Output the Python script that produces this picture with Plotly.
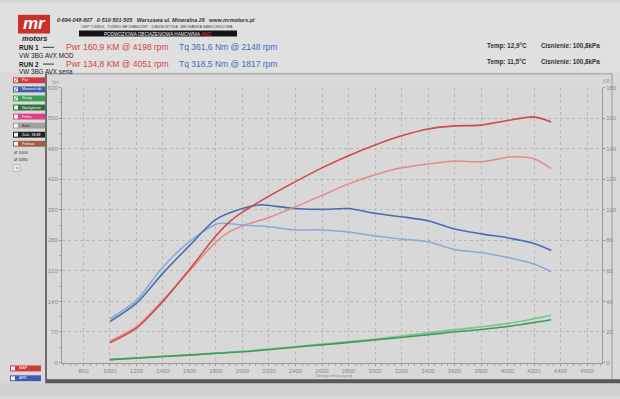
import plotly.graph_objects as go

# ---------------- data ----------------
rpm_pwr1 = [1000, 1200, 1400, 1600, 1800, 1900, 2000, 2200, 2400, 2600, 2800, 3000, 3200, 3400, 3600, 3800, 4000, 4198, 4330]
pwr1 = [13.0, 22.5, 40.0, 61.0, 83.0, 92.0, 98.5, 109.0, 118.5, 127.5, 135.5, 142.5, 148.5, 153.0, 155.0, 155.5, 158.5, 160.9, 157.5]

rpm_pwr2 = [1000, 1200, 1400, 1600, 1800, 1900, 2000, 2200, 2400, 2600, 2800, 3000, 3200, 3400, 3600, 3800, 4051, 4200, 4330]
pwr2 = [14.0, 23.5, 41.0, 60.0, 79.0, 85.5, 89.5, 95.0, 102.0, 109.5, 117.0, 123.0, 127.5, 130.0, 132.0, 131.5, 134.8, 133.5, 127.0]

rpm_tq1 = [1000, 1200, 1400, 1600, 1800, 2000, 2148, 2200, 2400, 2600, 2800, 3000, 3200, 3400, 3600, 3800, 4000, 4200, 4330]
tq1 = [94, 136, 205, 268, 328, 353, 361.6, 360, 353, 351, 353, 342, 334, 325, 306, 295, 286, 273, 257]

rpm_tq2 = [1000, 1200, 1400, 1600, 1817, 2000, 2200, 2400, 2600, 2800, 3000, 3200, 3400, 3600, 3800, 4000, 4200, 4330]
tq2 = [100, 143, 219, 277, 318.5, 315, 311, 304, 304, 299, 290, 283, 277, 259, 252, 241, 226, 208]

rpm_loss = [1000, 1500, 2000, 2500, 3000, 3500, 4000, 4330]
loss1 = [1.9, 4.5, 7.3, 11.2, 15.3, 20.4, 25.5, 31.0]
loss2 = [1.9, 4.4, 7.0, 10.8, 14.7, 19.1, 23.6, 28.0]

x_ticks = list(range(800, 4601, 200))
tq_ticks = list(range(0, 631, 70))
pwr_ticks = list(range(0, 181, 20))

legend_labels = ["Pwr", "Moment ob.", "Straty", "Nachylenie", "Pełna", "Koło", "Zakr. 1E4E", "Połowa"]
legend_colors = ["#d03a3a", "#3f5fae", "#3aa055", "#2f6e3a", "#e0408a", "#a0a0a0", "#222222", "#a0603a"]
legend_checked = [True, True, True, False, False, False, False, False]

W, H = 620, 399
def X(p): return p / W
def Y(p): return 1 - p / H

RED1, RED2 = "#cf4a4a", "#e08c8c"
BLUE1, BLUE2 = "#4a6fb0", "#8aa8d8"
GREEN1, GREEN2 = "#78c490", "#3f9a5c"

fig = go.Figure()
sp = dict(shape="spline", smoothing=0.8)
fig.add_trace(go.Scatter(x=rpm_loss, y=loss1, yaxis="y2", mode="lines", line=dict(color=GREEN1, width=1.6, **sp)))
fig.add_trace(go.Scatter(x=rpm_loss, y=loss2, yaxis="y2", mode="lines", line=dict(color=GREEN2, width=1.6, **sp)))
fig.add_trace(go.Scatter(x=rpm_tq2, y=tq2, mode="lines", line=dict(color=BLUE2, width=1.5, **sp)))
fig.add_trace(go.Scatter(x=rpm_tq1, y=tq1, mode="lines", line=dict(color=BLUE1, width=1.6, **sp)))
fig.add_trace(go.Scatter(x=rpm_pwr2, y=pwr2, yaxis="y2", mode="lines", line=dict(color=RED2, width=1.5, **sp)))
fig.add_trace(go.Scatter(x=rpm_pwr1, y=pwr1, yaxis="y2", mode="lines", line=dict(color=RED1, width=1.6, **sp)))

tickfont = dict(family="Liberation Sans", size=6, color="#8a8a8a")
grid = dict(showgrid=True, gridcolor="#b9b9b9", griddash="dot", gridwidth=1)

fig.update_layout(
    width=W, height=H, margin=dict(l=0, r=0, t=0, b=0),
    paper_bgcolor="#d9d9d9", plot_bgcolor="#d8d8d8",
    showlegend=False,
    xaxis=dict(domain=[X(62), X(602)], range=[638, 4713], tickvals=x_ticks,
               tickfont=tickfont, ticks="outside", ticklen=2, tickcolor="#999",
               showline=True, linecolor="#999", linewidth=1, zeroline=False,
               minor=dict(dtick=50, ticks="outside", ticklen=2, tickcolor="#aaa"),
               **grid),
    yaxis=dict(domain=[Y(365), Y(86)], range=[0, 630], tickvals=tq_ticks,
               tickfont=tickfont, ticks="outside", ticklen=2, tickcolor="#999",
               showline=True, linecolor="#999", linewidth=1, zeroline=False,
               minor=dict(dtick=35, ticks="outside", ticklen=2, tickcolor="#aaa"),
               **grid),
    yaxis2=dict(overlaying="y", side="right", range=[0, 180], tickvals=pwr_ticks,
                tickfont=tickfont, ticks="outside", ticklen=2, tickcolor="#999",
                showline=True, linecolor="#999", linewidth=1, zeroline=False,
                showgrid=False, anchor="x"),
)

shapes = []
ann = []
def rect(x0, y0, x1, y1, fill, line=None, lw=0, layer="below"):
    shapes.append(dict(type="rect", xref="paper", yref="paper", x0=X(x0), x1=X(x1), y0=Y(y1), y1=Y(y0),
                       fillcolor=fill, line=dict(color=line or fill, width=lw), layer=layer))
def line(x0, y0, x1, y1, color, w=1, layer="above"):
    shapes.append(dict(type="line", xref="paper", yref="paper", x0=X(x0), x1=X(x1), y0=Y(y0), y1=Y(y1),
                       line=dict(color=color, width=w), layer=layer))
def text(x, y, s, size, color="#222", anchor="left", bold=False, italic=False, family="Liberation Sans"):
    if bold:
        s = "<b>" + s + "</b>"
    if italic:
        s = "<i>" + s + "</i>"
    ann.append(dict(x=X(x), y=Y(y), xref="paper", yref="paper", text=s, showarrow=False,
                    xanchor=anchor, yanchor="middle", font=dict(family=family, size=size, color=color)))

# header background
rect(0, 0, 620, 70, "#e0e0e0")
# chart window frame
rect(46, 72, 612, 383, "rgba(0,0,0,0)", line="#9a9a9a", lw=1)
line(46, 72, 46, 386, "#555555", 1.5)
rect(46, 382, 620, 386, "#5a5a5a", layer="above")
rect(0, 386, 620, 399, "#d0d0d0")

# logo
rect(18, 12, 50, 31, "#c8322b", layer="above")
text(34, 21, "mr", 17, "#ffffff", anchor="center", bold=True, italic=True)
text(34, 36, "motors", 7.5, "#222222", anchor="center", bold=True, italic=True)

text(55, 17, "0-694-048-807&nbsp;&nbsp;&nbsp;0-510-501-505&nbsp;&nbsp;&nbsp;Warszawa ul. Mineralna 26&nbsp;&nbsp;&nbsp;www.mrmotors.pl", 5.4, "#333", bold=True, italic=True)
text(157, 24, "CHIP TUNING - TUNING MECHANICZNY - DIAGNOSTYKA - MECHANIKA SAMOCHODOWA", 3.6, "#444", anchor="center")
rect(79, 28, 237, 34, "#151515", layer="above")
text(158, 31, "PODWOZIOWA OBCIĄŻENIOWA HAMOWNIA <span style='color:#e03030'>4WD</span>", 4.6, "#f0f0f0", anchor="center")

# run info
text(17, 45, "RUN 1", 6.5, "#222", bold=True)
line(43, 45, 54, 45, "#333", 1)
text(64, 45, "Pwr 160,9 KM @ 4198 rpm", 8.5, "#d64545")
text(177, 45, "Tq 361,6 Nm @ 2148 rpm", 8.5, "#3f6cc0")
text(17, 53, "VW 3BG AVX MOD", 6.3, "#222")
text(17, 62, "RUN 2", 6.5, "#222", bold=True)
line(43, 62, 54, 62, "#333", 1)
text(64, 62, "Pwr 134,8 KM @ 4051 rpm", 8.5, "#d64545")
text(177, 62, "Tq 318,5 Nm @ 1817 rpm", 8.5, "#3f6cc0")
text(17, 70, "VW 3BG AVX seria", 6.3, "#222")

text(485, 43.5, "Temp: 12,9°C", 6.3, "#333", bold=True)
text(539, 43.5, "Cisnienie: 100,8kPa", 6.3, "#333", bold=True)
text(485, 60, "Temp: 11,5°C", 6.3, "#333", bold=True)
text(539, 60, "Cisnienie: 100,8kPa", 6.3, "#333", bold=True)

# axis unit labels
text(55, 81, "Nm", 4.5, "#999", anchor="center")
text(606, 80, "KM", 4.5, "#999", anchor="center")
text(333, 378.5, "Obroty silnika [rpm]", 4.3, "#8a8a8a", anchor="center")

# left panel legend
for i, (lab, col, chk) in enumerate(zip(legend_labels, legend_colors, legend_checked)):
    yc = 78.5 + i * 9.2
    rect(13, yc - 3, 45, yc + 3, col, layer="above")
    rect(14, yc - 2, 18, yc + 2, "#f4f4f4", layer="above")
    if chk:
        text(16, yc, "✓", 4.5, "#222", anchor="center")
    text(20, yc, lab, 3.8, "#f4f4f4" if col not in ("#a0a0a0",) else "#333")

text(12, 152, "Ø 1000", 4.2, "#333")
text(12, 159, "Ø 4380", 4.2, "#333")
rect(13, 164, 20, 171, "#e8e8e8", line="#999", lw=0.5, layer="above")
text(16.5, 167.5, "x", 4, "#555", anchor="center")

rect(10, 368, 41, 374, "#d03a3a", layer="above")
rect(11, 369, 15, 373, "#f4f4f4", layer="above")
text(17, 371, "MAP", 3.8, "#f4f4f4")
rect(10, 378, 41, 384, "#3f5fae", layer="above")
rect(11, 379, 15, 383, "#f4f4f4", layer="above")
text(17, 381, "AFR", 3.8, "#f4f4f4")

fig.update_layout(shapes=shapes, annotations=ann)
fig.write_html("out.html")
